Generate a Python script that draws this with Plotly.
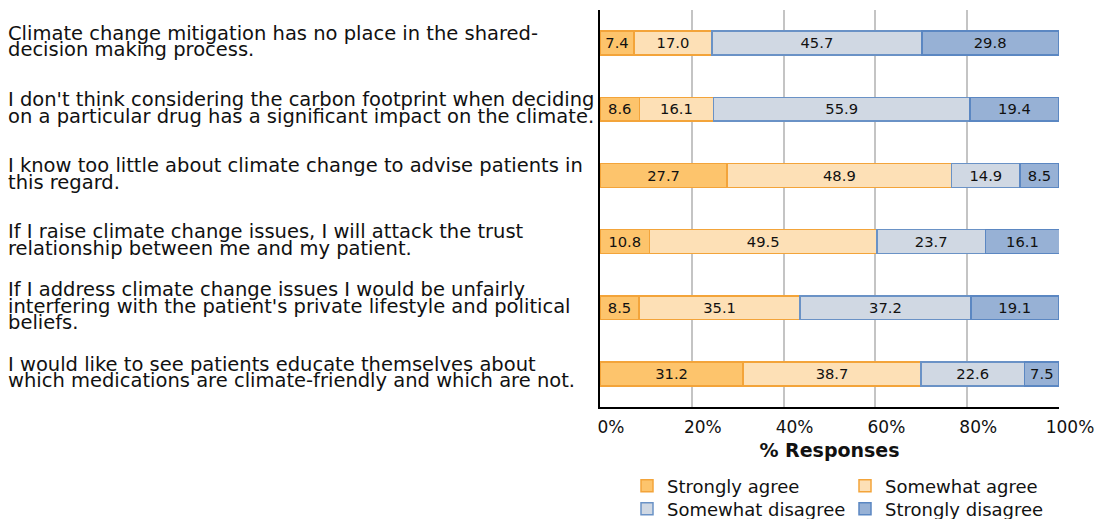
import plotly.graph_objects as go

statements = [
    "Climate change mitigation has no place in the shared-<br>decision making process.",
    "I don't think considering the carbon footprint when deciding<br>on a particular drug has a significant impact on the climate.",
    "I know too little about climate change to advise patients in<br>this regard.",
    "If I raise climate change issues, I will attack the trust<br>relationship between me and my patient.",
    "If I address climate change issues I would be unfairly<br>interfering with the patient's private lifestyle and political<br>beliefs.",
    "I would like to see patients educate themselves about<br>which medications are climate-friendly and which are not.",
]
strongly_agree = [7.4, 8.6, 27.7, 10.8, 8.5, 31.2]
somewhat_agree = [17.0, 16.1, 48.9, 49.5, 35.1, 38.7]
somewhat_disagree = [45.7, 55.9, 14.9, 23.7, 37.2, 22.6]
strongly_disagree = [29.8, 19.4, 8.5, 16.1, 19.1, 7.5]
x_ticks = [0, 20, 40, 60, 80, 100]
x_tick_labels = ["0%", "20%", "40%", "60%", "80%", "100%"]

cats = [s.replace("<br>", " ") for s in statements]

series = [
    ("Strongly agree", strongly_agree, "#fdc46c", "#f3a43a", "legend"),
    ("Somewhat agree", somewhat_agree, "#fde0b6", "#f3a43a", "legend"),
    ("Somewhat disagree", somewhat_disagree, "#d0d8e3", "#6a92c6", "legend2"),
    ("Strongly disagree", strongly_disagree, "#97b1d5", "#5b87c2", "legend2"),
]

W, H = 1102, 519
ML, MR, MT, MB = 600, 43, 10, 112
PW = W - ML - MR
PH = H - MT - MB

fig = go.Figure()
for name, vals, fill, line, lg in series:
    fig.add_trace(go.Bar(
        y=cats, x=vals, name=name, orientation="h",
        marker=dict(color=fill, line=dict(color=line, width=1.5)),
        width=0.36,
        text=[f"{v:.1f}" for v in vals],
        textposition="inside", insidetextanchor="middle",
        textfont=dict(size=15.7, color="#111111", family="DejaVu Sans"),
        textangle=0,
        legend=lg,
    ))

annotations = []
for cat, stmt in zip(cats, statements):
    lines = stmt.split("<br>")
    n = len(lines)
    for i, ln in enumerate(lines):
        annotations.append(dict(
            text=ln, xref="paper", yref="y", x=(6 - ML) / PW, y=cat,
            xanchor="left", yanchor="middle", showarrow=False,
            yshift=-(i - (n - 1) / 2) * 16.5 + 1.5,
            font=dict(size=19.5, color="#111111", family="DejaVu Sans"),
        ))

fig.update_layout(
    width=W, height=H,
    margin=dict(l=ML, r=MR, t=MT, b=MB, autoexpand=False),
    barmode="stack",
    plot_bgcolor="white", paper_bgcolor="white",
    font=dict(family="DejaVu Sans", color="#111111"),
    annotations=annotations,
    xaxis=dict(
        range=[0, 100], tickvals=x_ticks, ticktext=x_tick_labels,
        showgrid=True, gridcolor="#c4c4c4", gridwidth=1.5,
        showline=True, linecolor="black", linewidth=1.5,
        zeroline=False, ticks="", automargin=False,
        tickfont=dict(size=17, family="DejaVu Sans", color="#111111"),
        ticklabelshift=11, ticklabelstandoff=4,
        title=dict(text="<b>% Responses</b>", font=dict(size=19, family="DejaVu Sans", color="#111111"), standoff=8),
    ),
    yaxis=dict(
        categoryorder="array", categoryarray=cats, autorange="reversed",
        showticklabels=False, showgrid=False, showline=True, automargin=False,
        linecolor="black", linewidth=1.5, ticks="", zeroline=False,
    ),
    legend=dict(
        orientation="h", x=(627 - ML) / PW, xanchor="left",
        y=(MT + PH - 486) / PH, yanchor="middle",
        font=dict(size=18, family="DejaVu Sans", color="#111111"),
        entrywidth=173, entrywidthmode="pixels", traceorder="normal",
        bgcolor="rgba(0,0,0,0)",
    ),
    legend2=dict(
        orientation="h", x=(627 - ML) / PW, xanchor="left",
        y=(MT + PH - 509) / PH, yanchor="middle",
        font=dict(size=18, family="DejaVu Sans", color="#111111"),
        entrywidth=173, entrywidthmode="pixels", traceorder="normal",
        bgcolor="rgba(0,0,0,0)",
    ),
    showlegend=True,
)

fig.write_html(
    "out.html",
    config={"displayModeBar": False},
    post_script="document.body.style.margin='0px';document.body.style.padding='0px';",
)
